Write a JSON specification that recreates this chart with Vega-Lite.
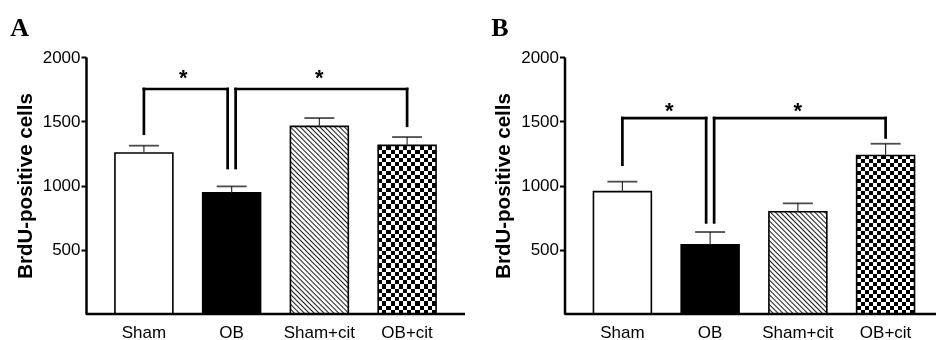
{
"$schema": "https://vega.github.io/schema/vega-lite/v6.json",
"padding": {"left": 10, "top": 15, "right": 0, "bottom": 0},
"params": [
{"name": "hatchA", "value": {"gradient": "linear", "x1": 0, "y1": 1, "x2": 0.3695, "y2": -0.1972, "stops": [
{"offset":0,"color":"#222"},
{"offset":0.006,"color":"#fff"},{"offset":0.014,"color":"#fff"},{"offset":0.02,"color":"#222"},
{"offset":0.026,"color":"#fff"},{"offset":0.034,"color":"#fff"},{"offset":0.04,"color":"#222"},
{"offset":0.046,"color":"#fff"},{"offset":0.054,"color":"#fff"},{"offset":0.06,"color":"#222"},
{"offset":0.066,"color":"#fff"},{"offset":0.074,"color":"#fff"},{"offset":0.08,"color":"#222"},
{"offset":0.086,"color":"#fff"},{"offset":0.094,"color":"#fff"},{"offset":0.1,"color":"#222"},
{"offset":0.106,"color":"#fff"},{"offset":0.114,"color":"#fff"},{"offset":0.12,"color":"#222"},
{"offset":0.126,"color":"#fff"},{"offset":0.134,"color":"#fff"},{"offset":0.14,"color":"#222"},
{"offset":0.146,"color":"#fff"},{"offset":0.154,"color":"#fff"},{"offset":0.16,"color":"#222"},
{"offset":0.166,"color":"#fff"},{"offset":0.174,"color":"#fff"},{"offset":0.18,"color":"#222"},
{"offset":0.186,"color":"#fff"},{"offset":0.194,"color":"#fff"},{"offset":0.2,"color":"#222"},
{"offset":0.206,"color":"#fff"},{"offset":0.214,"color":"#fff"},{"offset":0.22,"color":"#222"},
{"offset":0.226,"color":"#fff"},{"offset":0.234,"color":"#fff"},{"offset":0.24,"color":"#222"},
{"offset":0.246,"color":"#fff"},{"offset":0.254,"color":"#fff"},{"offset":0.26,"color":"#222"},
{"offset":0.266,"color":"#fff"},{"offset":0.274,"color":"#fff"},{"offset":0.28,"color":"#222"},
{"offset":0.286,"color":"#fff"},{"offset":0.294,"color":"#fff"},{"offset":0.3,"color":"#222"},
{"offset":0.306,"color":"#fff"},{"offset":0.314,"color":"#fff"},{"offset":0.32,"color":"#222"},
{"offset":0.326,"color":"#fff"},{"offset":0.334,"color":"#fff"},{"offset":0.34,"color":"#222"},
{"offset":0.346,"color":"#fff"},{"offset":0.354,"color":"#fff"},{"offset":0.36,"color":"#222"},
{"offset":0.366,"color":"#fff"},{"offset":0.374,"color":"#fff"},{"offset":0.38,"color":"#222"},
{"offset":0.386,"color":"#fff"},{"offset":0.394,"color":"#fff"},{"offset":0.4,"color":"#222"},
{"offset":0.406,"color":"#fff"},{"offset":0.414,"color":"#fff"},{"offset":0.42,"color":"#222"},
{"offset":0.426,"color":"#fff"},{"offset":0.434,"color":"#fff"},{"offset":0.44,"color":"#222"},
{"offset":0.446,"color":"#fff"},{"offset":0.454,"color":"#fff"},{"offset":0.46,"color":"#222"},
{"offset":0.466,"color":"#fff"},{"offset":0.474,"color":"#fff"},{"offset":0.48,"color":"#222"},
{"offset":0.486,"color":"#fff"},{"offset":0.494,"color":"#fff"},{"offset":0.5,"color":"#222"},
{"offset":0.506,"color":"#fff"},{"offset":0.514,"color":"#fff"},{"offset":0.52,"color":"#222"},
{"offset":0.526,"color":"#fff"},{"offset":0.534,"color":"#fff"},{"offset":0.54,"color":"#222"},
{"offset":0.546,"color":"#fff"},{"offset":0.554,"color":"#fff"},{"offset":0.56,"color":"#222"},
{"offset":0.566,"color":"#fff"},{"offset":0.574,"color":"#fff"},{"offset":0.58,"color":"#222"},
{"offset":0.586,"color":"#fff"},{"offset":0.594,"color":"#fff"},{"offset":0.6,"color":"#222"},
{"offset":0.606,"color":"#fff"},{"offset":0.614,"color":"#fff"},{"offset":0.62,"color":"#222"},
{"offset":0.626,"color":"#fff"},{"offset":0.634,"color":"#fff"},{"offset":0.64,"color":"#222"},
{"offset":0.646,"color":"#fff"},{"offset":0.654,"color":"#fff"},{"offset":0.66,"color":"#222"},
{"offset":0.666,"color":"#fff"},{"offset":0.674,"color":"#fff"},{"offset":0.68,"color":"#222"},
{"offset":0.686,"color":"#fff"},{"offset":0.694,"color":"#fff"},{"offset":0.7,"color":"#222"},
{"offset":0.706,"color":"#fff"},{"offset":0.714,"color":"#fff"},{"offset":0.72,"color":"#222"},
{"offset":0.726,"color":"#fff"},{"offset":0.734,"color":"#fff"},{"offset":0.74,"color":"#222"},
{"offset":0.746,"color":"#fff"},{"offset":0.754,"color":"#fff"},{"offset":0.76,"color":"#222"},
{"offset":0.766,"color":"#fff"},{"offset":0.774,"color":"#fff"},{"offset":0.78,"color":"#222"},
{"offset":0.786,"color":"#fff"},{"offset":0.794,"color":"#fff"},{"offset":0.8,"color":"#222"},
{"offset":0.806,"color":"#fff"},{"offset":0.814,"color":"#fff"},{"offset":0.82,"color":"#222"},
{"offset":0.826,"color":"#fff"},{"offset":0.834,"color":"#fff"},{"offset":0.84,"color":"#222"},
{"offset":0.846,"color":"#fff"},{"offset":0.854,"color":"#fff"},{"offset":0.86,"color":"#222"},
{"offset":0.866,"color":"#fff"},{"offset":0.874,"color":"#fff"},{"offset":0.88,"color":"#222"},
{"offset":0.886,"color":"#fff"},{"offset":0.894,"color":"#fff"},{"offset":0.9,"color":"#222"},
{"offset":0.906,"color":"#fff"},{"offset":0.914,"color":"#fff"},{"offset":0.92,"color":"#222"},
{"offset":0.926,"color":"#fff"},{"offset":0.934,"color":"#fff"},{"offset":0.94,"color":"#222"},
{"offset":0.946,"color":"#fff"},{"offset":0.954,"color":"#fff"},{"offset":0.96,"color":"#222"},
{"offset":0.966,"color":"#fff"},{"offset":0.974,"color":"#fff"},{"offset":0.98,"color":"#222"},
{"offset":0.986,"color":"#fff"},{"offset":0.994,"color":"#fff"},{"offset":1,"color":"#222"}
]}},
{"name": "hatchB", "value": {"gradient": "linear", "x1": 0, "y1": 1, "x2": 1.0309, "y2": -0.8214, "stops": [
{"offset":0,"color":"#222"},
{"offset":0.006,"color":"#fff"},{"offset":0.014,"color":"#fff"},{"offset":0.02,"color":"#222"},
{"offset":0.026,"color":"#fff"},{"offset":0.034,"color":"#fff"},{"offset":0.04,"color":"#222"},
{"offset":0.046,"color":"#fff"},{"offset":0.054,"color":"#fff"},{"offset":0.06,"color":"#222"},
{"offset":0.066,"color":"#fff"},{"offset":0.074,"color":"#fff"},{"offset":0.08,"color":"#222"},
{"offset":0.086,"color":"#fff"},{"offset":0.094,"color":"#fff"},{"offset":0.1,"color":"#222"},
{"offset":0.106,"color":"#fff"},{"offset":0.114,"color":"#fff"},{"offset":0.12,"color":"#222"},
{"offset":0.126,"color":"#fff"},{"offset":0.134,"color":"#fff"},{"offset":0.14,"color":"#222"},
{"offset":0.146,"color":"#fff"},{"offset":0.154,"color":"#fff"},{"offset":0.16,"color":"#222"},
{"offset":0.166,"color":"#fff"},{"offset":0.174,"color":"#fff"},{"offset":0.18,"color":"#222"},
{"offset":0.186,"color":"#fff"},{"offset":0.194,"color":"#fff"},{"offset":0.2,"color":"#222"},
{"offset":0.206,"color":"#fff"},{"offset":0.214,"color":"#fff"},{"offset":0.22,"color":"#222"},
{"offset":0.226,"color":"#fff"},{"offset":0.234,"color":"#fff"},{"offset":0.24,"color":"#222"},
{"offset":0.246,"color":"#fff"},{"offset":0.254,"color":"#fff"},{"offset":0.26,"color":"#222"},
{"offset":0.266,"color":"#fff"},{"offset":0.274,"color":"#fff"},{"offset":0.28,"color":"#222"},
{"offset":0.286,"color":"#fff"},{"offset":0.294,"color":"#fff"},{"offset":0.3,"color":"#222"},
{"offset":0.306,"color":"#fff"},{"offset":0.314,"color":"#fff"},{"offset":0.32,"color":"#222"},
{"offset":0.326,"color":"#fff"},{"offset":0.334,"color":"#fff"},{"offset":0.34,"color":"#222"},
{"offset":0.346,"color":"#fff"},{"offset":0.354,"color":"#fff"},{"offset":0.36,"color":"#222"},
{"offset":0.366,"color":"#fff"},{"offset":0.374,"color":"#fff"},{"offset":0.38,"color":"#222"},
{"offset":0.386,"color":"#fff"},{"offset":0.394,"color":"#fff"},{"offset":0.4,"color":"#222"},
{"offset":0.406,"color":"#fff"},{"offset":0.414,"color":"#fff"},{"offset":0.42,"color":"#222"},
{"offset":0.426,"color":"#fff"},{"offset":0.434,"color":"#fff"},{"offset":0.44,"color":"#222"},
{"offset":0.446,"color":"#fff"},{"offset":0.454,"color":"#fff"},{"offset":0.46,"color":"#222"},
{"offset":0.466,"color":"#fff"},{"offset":0.474,"color":"#fff"},{"offset":0.48,"color":"#222"},
{"offset":0.486,"color":"#fff"},{"offset":0.494,"color":"#fff"},{"offset":0.5,"color":"#222"},
{"offset":0.506,"color":"#fff"},{"offset":0.514,"color":"#fff"},{"offset":0.52,"color":"#222"},
{"offset":0.526,"color":"#fff"},{"offset":0.534,"color":"#fff"},{"offset":0.54,"color":"#222"},
{"offset":0.546,"color":"#fff"},{"offset":0.554,"color":"#fff"},{"offset":0.56,"color":"#222"},
{"offset":0.566,"color":"#fff"},{"offset":0.574,"color":"#fff"},{"offset":0.58,"color":"#222"},
{"offset":0.586,"color":"#fff"},{"offset":0.594,"color":"#fff"},{"offset":0.6,"color":"#222"},
{"offset":0.606,"color":"#fff"},{"offset":0.614,"color":"#fff"},{"offset":0.62,"color":"#222"},
{"offset":0.626,"color":"#fff"},{"offset":0.634,"color":"#fff"},{"offset":0.64,"color":"#222"},
{"offset":0.646,"color":"#fff"},{"offset":0.654,"color":"#fff"},{"offset":0.66,"color":"#222"},
{"offset":0.666,"color":"#fff"},{"offset":0.674,"color":"#fff"},{"offset":0.68,"color":"#222"}
]}},
{"name": "checkV", "value": {"gradient": "linear", "x1": 0, "y1": 0, "x2": 1.4286, "y2": 0, "stops": [
{"offset":0,"color":"#000"},{"offset":0.05,"color":"#000"},{"offset":0.05,"color":"#fff"},{"offset":0.1,"color":"#fff"},
{"offset":0.1,"color":"#000"},{"offset":0.15,"color":"#000"},{"offset":0.15,"color":"#fff"},{"offset":0.2,"color":"#fff"},
{"offset":0.2,"color":"#000"},{"offset":0.25,"color":"#000"},{"offset":0.25,"color":"#fff"},{"offset":0.3,"color":"#fff"},
{"offset":0.3,"color":"#000"},{"offset":0.35,"color":"#000"},{"offset":0.35,"color":"#fff"},{"offset":0.4,"color":"#fff"},
{"offset":0.4,"color":"#000"},{"offset":0.45,"color":"#000"},{"offset":0.45,"color":"#fff"},{"offset":0.5,"color":"#fff"},
{"offset":0.5,"color":"#000"},{"offset":0.55,"color":"#000"},{"offset":0.55,"color":"#fff"},{"offset":0.6,"color":"#fff"},
{"offset":0.6,"color":"#000"},{"offset":0.65,"color":"#000"},{"offset":0.65,"color":"#fff"},{"offset":0.7,"color":"#fff"}
]}},
{"name": "checkH", "value": {"gradient": "linear", "x1": 0, "y1": 0, "x2": 0, "y2": 1, "stops": [
{"offset":0,"color":"#000"},{"offset":0.025,"color":"#000"},{"offset":0.025,"color":"#fff"},{"offset":0.05,"color":"#fff"},
{"offset":0.05,"color":"#000"},{"offset":0.075,"color":"#000"},{"offset":0.075,"color":"#fff"},{"offset":0.1,"color":"#fff"},
{"offset":0.1,"color":"#000"},{"offset":0.125,"color":"#000"},{"offset":0.125,"color":"#fff"},{"offset":0.15,"color":"#fff"},
{"offset":0.15,"color":"#000"},{"offset":0.175,"color":"#000"},{"offset":0.175,"color":"#fff"},{"offset":0.2,"color":"#fff"},
{"offset":0.2,"color":"#000"},{"offset":0.225,"color":"#000"},{"offset":0.225,"color":"#fff"},{"offset":0.25,"color":"#fff"},
{"offset":0.25,"color":"#000"},{"offset":0.275,"color":"#000"},{"offset":0.275,"color":"#fff"},{"offset":0.3,"color":"#fff"},
{"offset":0.3,"color":"#000"},{"offset":0.325,"color":"#000"},{"offset":0.325,"color":"#fff"},{"offset":0.35,"color":"#fff"},
{"offset":0.35,"color":"#000"},{"offset":0.375,"color":"#000"},{"offset":0.375,"color":"#fff"},{"offset":0.4,"color":"#fff"},
{"offset":0.4,"color":"#000"},{"offset":0.425,"color":"#000"},{"offset":0.425,"color":"#fff"},{"offset":0.45,"color":"#fff"},
{"offset":0.45,"color":"#000"},{"offset":0.475,"color":"#000"},{"offset":0.475,"color":"#fff"},{"offset":0.5,"color":"#fff"},
{"offset":0.5,"color":"#000"},{"offset":0.525,"color":"#000"},{"offset":0.525,"color":"#fff"},{"offset":0.55,"color":"#fff"},
{"offset":0.55,"color":"#000"},{"offset":0.575,"color":"#000"},{"offset":0.575,"color":"#fff"},{"offset":0.6,"color":"#fff"},
{"offset":0.6,"color":"#000"},{"offset":0.625,"color":"#000"},{"offset":0.625,"color":"#fff"},{"offset":0.65,"color":"#fff"},
{"offset":0.65,"color":"#000"},{"offset":0.675,"color":"#000"},{"offset":0.675,"color":"#fff"},{"offset":0.7,"color":"#fff"},
{"offset":0.7,"color":"#000"},{"offset":0.725,"color":"#000"},{"offset":0.725,"color":"#fff"},{"offset":0.75,"color":"#fff"},
{"offset":0.75,"color":"#000"},{"offset":0.775,"color":"#000"},{"offset":0.775,"color":"#fff"},{"offset":0.8,"color":"#fff"},
{"offset":0.8,"color":"#000"},{"offset":0.825,"color":"#000"},{"offset":0.825,"color":"#fff"},{"offset":0.85,"color":"#fff"},
{"offset":0.85,"color":"#000"},{"offset":0.875,"color":"#000"},{"offset":0.875,"color":"#fff"},{"offset":0.9,"color":"#fff"},
{"offset":0.9,"color":"#000"},{"offset":0.925,"color":"#000"},{"offset":0.925,"color":"#fff"},{"offset":0.95,"color":"#fff"},
{"offset":0.95,"color":"#000"},{"offset":0.975,"color":"#000"},{"offset":0.975,"color":"#fff"},{"offset":1,"color":"#fff"}
]}}
],
"datasets": {
"bars": [
{"panel":"A","group":"Sham","mean":1253,"upper":1310},
{"panel":"A","group":"OB","mean":944,"upper":993},
{"panel":"A","group":"Sham+cit","mean":1460,"upper":1525},
{"panel":"A","group":"OB+cit","mean":1312,"upper":1377},
{"panel":"B","group":"Sham","mean":952,"upper":1030},
{"panel":"B","group":"OB","mean":539,"upper":638},
{"panel":"B","group":"Sham+cit","mean":796,"upper":861},
{"panel":"B","group":"OB+cit","mean":1234,"upper":1325}
],
"brackets": [
{"panel":"A","side":"L","from":"Sham","to":"OB","top":1751,"fromEnd":1403,"toEnd":1136},
{"panel":"A","side":"R","from":"OB","to":"OB+cit","top":1751,"fromEnd":1136,"toEnd":1465},
{"panel":"B","side":"L","from":"Sham","to":"OB","top":1525,"fromEnd":1162,"toEnd":713},
{"panel":"B","side":"R","from":"OB","to":"OB+cit","top":1525,"fromEnd":713,"toEnd":1374}
]
},
"spacing": 23.5,
"hconcat": [
{
"width": 379, "height": 257,
"title": {"text": "A", "dx": -5},
"layer": [
{"data":{"name":"bars"},"transform":[{"filter":"datum.panel==='A'"}],"mark":{"type":"bar"},
 "encoding":{
  "x":{"field":"group","type":"nominal","title":null,"scale":{"domain":["Sham","OB","Sham+cit","OB+cit"],"paddingInner":0.34,"paddingOuter":0.33},"axis":{"values":["Sham","OB","Sham+cit","OB+cit"]}},
  "y":{"field":"mean","type":"quantitative","title":"BrdU-positive cells","scale":{"domain":[0,2000],"nice":false},"axis":{"values":[500,1000,1500,2000],"format":"d"}},
  "color":{"field":"group","type":"nominal","scale":{"domain":["Sham","OB","Sham+cit","OB+cit"],"range":["#ffffff","#000000","#ffffff","#ffffff"]},"legend":null}
 }},
{"data":{"name":"bars"},"transform":[{"filter":"datum.panel==='A' && datum.group==='Sham+cit'"}],"mark":{"type":"bar","fill":{"expr":"hatchA"}},
 "encoding":{"x":{"field":"group","type":"nominal","title":null,"scale":{"domain":["Sham","OB","Sham+cit","OB+cit"]}},"y":{"field":"mean","type":"quantitative","title":"BrdU-positive cells"}}},
{"data":{"name":"bars"},"transform":[{"filter":"datum.panel==='A' && datum.group==='OB+cit'"}],"mark":{"type":"bar","fill":{"expr":"checkV"}},
 "encoding":{"x":{"field":"group","type":"nominal","title":null,"scale":{"domain":["Sham","OB","Sham+cit","OB+cit"]}},"y":{"field":"mean","type":"quantitative","title":"BrdU-positive cells"}}},
{"data":{"name":"bars"},"transform":[{"filter":"datum.panel==='A' && datum.group==='OB+cit'"}],"mark":{"type":"bar","fill":{"expr":"checkH"},"blend":"difference"},
 "encoding":{"x":{"field":"group","type":"nominal","title":null,"scale":{"domain":["Sham","OB","Sham+cit","OB+cit"]}},"y":{"field":"mean","type":"quantitative","title":"BrdU-positive cells"}}},
{"data":{"name":"bars"},"transform":[{"filter":"datum.panel==='A'"}],"mark":{"type":"bar","fill":"#fff","fillOpacity":0,"stroke":"#000","strokeWidth":1.6},
 "encoding":{"x":{"field":"group","type":"nominal","title":null,"scale":{"domain":["Sham","OB","Sham+cit","OB+cit"]}},"y":{"field":"mean","type":"quantitative","title":"BrdU-positive cells"}}},
{"data":{"name":"bars"},"transform":[{"filter":"datum.panel==='A'"}],"mark":{"type":"rule","color":"#333","strokeWidth":1.2},
 "encoding":{"x":{"field":"group","type":"nominal","title":null,"scale":{"domain":["Sham","OB","Sham+cit","OB+cit"]}},"y":{"field":"mean","type":"quantitative","title":"BrdU-positive cells"},"y2":{"field":"upper"}}},
{"data":{"name":"bars"},"transform":[{"filter":"datum.panel==='A'"}],"mark":{"type":"tick","color":"#000","size":30,"thickness":1.8},
 "encoding":{"x":{"field":"group","type":"nominal","title":null,"scale":{"domain":["Sham","OB","Sham+cit","OB+cit"]}},"y":{"field":"upper","type":"quantitative","title":"BrdU-positive cells"}}},
{"data":{"values":[{}]},"mark":{"type":"rule","color":"#000","strokeWidth":2.5},"encoding":{"y":{"datum":0,"type":"quantitative","title":"BrdU-positive cells"}}},
{"data":{"name":"brackets"},"transform":[{"filter":"datum.panel==='A' && datum.side==='L'"}],"mark":{"type":"rule","color":"#000","strokeWidth":2.7,"strokeCap":"square","x2Offset":-4},
 "encoding":{"x":{"field":"from","type":"nominal","title":null,"scale":{"domain":["Sham","OB","Sham+cit","OB+cit"]}},"x2":{"field":"to"},"y":{"field":"top","type":"quantitative","title":"BrdU-positive cells"}}},
{"data":{"name":"brackets"},"transform":[{"filter":"datum.panel==='A' && datum.side==='R'"}],"mark":{"type":"rule","color":"#000","strokeWidth":2.7,"strokeCap":"square","xOffset":4},
 "encoding":{"x":{"field":"from","type":"nominal","title":null,"scale":{"domain":["Sham","OB","Sham+cit","OB+cit"]}},"x2":{"field":"to"},"y":{"field":"top","type":"quantitative","title":"BrdU-positive cells"}}},
{"data":{"name":"brackets"},"transform":[{"filter":"datum.panel==='A' && datum.side==='L'"}],"mark":{"type":"rule","color":"#000","strokeWidth":2.7,"strokeCap":"square"},
 "encoding":{"x":{"field":"from","type":"nominal","title":null,"scale":{"domain":["Sham","OB","Sham+cit","OB+cit"]}},"y":{"field":"fromEnd","type":"quantitative","title":"BrdU-positive cells"},"y2":{"field":"top"}}},
{"data":{"name":"brackets"},"transform":[{"filter":"datum.panel==='A' && datum.side==='L'"}],"mark":{"type":"rule","color":"#000","strokeWidth":2.7,"strokeCap":"square","xOffset":-4},
 "encoding":{"x":{"field":"to","type":"nominal","title":null,"scale":{"domain":["Sham","OB","Sham+cit","OB+cit"]}},"y":{"field":"toEnd","type":"quantitative","title":"BrdU-positive cells"},"y2":{"field":"top"}}},
{"data":{"name":"brackets"},"transform":[{"filter":"datum.panel==='A' && datum.side==='R'"}],"mark":{"type":"rule","color":"#000","strokeWidth":2.7,"strokeCap":"square","xOffset":4},
 "encoding":{"x":{"field":"from","type":"nominal","title":null,"scale":{"domain":["Sham","OB","Sham+cit","OB+cit"]}},"y":{"field":"fromEnd","type":"quantitative","title":"BrdU-positive cells"},"y2":{"field":"top"}}},
{"data":{"name":"brackets"},"transform":[{"filter":"datum.panel==='A' && datum.side==='R'"}],"mark":{"type":"rule","color":"#000","strokeWidth":2.7,"strokeCap":"square"},
 "encoding":{"x":{"field":"to","type":"nominal","title":null,"scale":{"domain":["Sham","OB","Sham+cit","OB+cit"]}},"y":{"field":"toEnd","type":"quantitative","title":"BrdU-positive cells"},"y2":{"field":"top"}}},
{"data":{"name":"brackets"},"transform":[{"filter":"datum.panel==='A' && datum.side==='L'"}],"mark":{"type":"text","text":"*","font":"Liberation Sans","fontWeight":"bold","fontSize":22,"baseline":"alphabetic","xOffset":39.5,"dy":-4,"color":"#000"},
 "encoding":{"x":{"field":"from","type":"nominal","title":null,"scale":{"domain":["Sham","OB","Sham+cit","OB+cit"]}},"y":{"field":"top","type":"quantitative","title":"BrdU-positive cells"}}},
{"data":{"name":"brackets"},"transform":[{"filter":"datum.panel==='A' && datum.side==='R'"}],"mark":{"type":"text","text":"*","font":"Liberation Sans","fontWeight":"bold","fontSize":22,"baseline":"alphabetic","xOffset":87.7,"dy":-4,"color":"#000"},
 "encoding":{"x":{"field":"from","type":"nominal","title":null,"scale":{"domain":["Sham","OB","Sham+cit","OB+cit"]}},"y":{"field":"top","type":"quantitative","title":"BrdU-positive cells"}}}
]
},
{
"width": 372, "height": 257,
"title": {"text": "B", "dx": -2.5},
"layer": [
{"data":{"name":"bars"},"transform":[{"filter":"datum.panel==='B'"}],"mark":{"type":"bar"},
 "encoding":{
  "x":{"field":"group","type":"nominal","title":null,"scale":{"domain":["Sham","OB","Sham+cit","OB+cit"],"paddingInner":0.34,"paddingOuter":0.33,"range":[0,379]},"axis":{"values":["Sham","OB","Sham+cit","OB+cit"]}},
  "y":{"field":"mean","type":"quantitative","title":"BrdU-positive cells","scale":{"domain":[0,2000],"nice":false},"axis":{"values":[500,1000,1500,2000],"format":"d"}},
  "color":{"field":"group","type":"nominal","scale":{"domain":["Sham","OB","Sham+cit","OB+cit"],"range":["#ffffff","#000000","#ffffff","#ffffff"]},"legend":null}
 }},
{"data":{"name":"bars"},"transform":[{"filter":"datum.panel==='B' && datum.group==='Sham+cit'"}],"mark":{"type":"bar","fill":{"expr":"hatchB"}},
 "encoding":{"x":{"field":"group","type":"nominal","title":null,"scale":{"domain":["Sham","OB","Sham+cit","OB+cit"]}},"y":{"field":"mean","type":"quantitative","title":"BrdU-positive cells"}}},
{"data":{"name":"bars"},"transform":[{"filter":"datum.panel==='B' && datum.group==='OB+cit'"}],"mark":{"type":"bar","fill":{"expr":"checkV"}},
 "encoding":{"x":{"field":"group","type":"nominal","title":null,"scale":{"domain":["Sham","OB","Sham+cit","OB+cit"]}},"y":{"field":"mean","type":"quantitative","title":"BrdU-positive cells"}}},
{"data":{"name":"bars"},"transform":[{"filter":"datum.panel==='B' && datum.group==='OB+cit'"}],"mark":{"type":"bar","fill":{"expr":"checkH"},"blend":"difference"},
 "encoding":{"x":{"field":"group","type":"nominal","title":null,"scale":{"domain":["Sham","OB","Sham+cit","OB+cit"]}},"y":{"field":"mean","type":"quantitative","title":"BrdU-positive cells"}}},
{"data":{"name":"bars"},"transform":[{"filter":"datum.panel==='B'"}],"mark":{"type":"bar","fill":"#fff","fillOpacity":0,"stroke":"#000","strokeWidth":1.6},
 "encoding":{"x":{"field":"group","type":"nominal","title":null,"scale":{"domain":["Sham","OB","Sham+cit","OB+cit"]}},"y":{"field":"mean","type":"quantitative","title":"BrdU-positive cells"}}},
{"data":{"name":"bars"},"transform":[{"filter":"datum.panel==='B'"}],"mark":{"type":"rule","color":"#333","strokeWidth":1.2},
 "encoding":{"x":{"field":"group","type":"nominal","title":null,"scale":{"domain":["Sham","OB","Sham+cit","OB+cit"]}},"y":{"field":"mean","type":"quantitative","title":"BrdU-positive cells"},"y2":{"field":"upper"}}},
{"data":{"name":"bars"},"transform":[{"filter":"datum.panel==='B'"}],"mark":{"type":"tick","color":"#000","size":30,"thickness":1.8},
 "encoding":{"x":{"field":"group","type":"nominal","title":null,"scale":{"domain":["Sham","OB","Sham+cit","OB+cit"]}},"y":{"field":"upper","type":"quantitative","title":"BrdU-positive cells"}}},
{"data":{"values":[{}]},"mark":{"type":"rule","color":"#000","strokeWidth":2.5},"encoding":{"y":{"datum":0,"type":"quantitative","title":"BrdU-positive cells"}}},
{"data":{"name":"brackets"},"transform":[{"filter":"datum.panel==='B' && datum.side==='L'"}],"mark":{"type":"rule","color":"#000","strokeWidth":2.7,"strokeCap":"square","x2Offset":-4},
 "encoding":{"x":{"field":"from","type":"nominal","title":null,"scale":{"domain":["Sham","OB","Sham+cit","OB+cit"]}},"x2":{"field":"to"},"y":{"field":"top","type":"quantitative","title":"BrdU-positive cells"}}},
{"data":{"name":"brackets"},"transform":[{"filter":"datum.panel==='B' && datum.side==='R'"}],"mark":{"type":"rule","color":"#000","strokeWidth":2.7,"strokeCap":"square","xOffset":4},
 "encoding":{"x":{"field":"from","type":"nominal","title":null,"scale":{"domain":["Sham","OB","Sham+cit","OB+cit"]}},"x2":{"field":"to"},"y":{"field":"top","type":"quantitative","title":"BrdU-positive cells"}}},
{"data":{"name":"brackets"},"transform":[{"filter":"datum.panel==='B' && datum.side==='L'"}],"mark":{"type":"rule","color":"#000","strokeWidth":2.7,"strokeCap":"square"},
 "encoding":{"x":{"field":"from","type":"nominal","title":null,"scale":{"domain":["Sham","OB","Sham+cit","OB+cit"]}},"y":{"field":"fromEnd","type":"quantitative","title":"BrdU-positive cells"},"y2":{"field":"top"}}},
{"data":{"name":"brackets"},"transform":[{"filter":"datum.panel==='B' && datum.side==='L'"}],"mark":{"type":"rule","color":"#000","strokeWidth":2.7,"strokeCap":"square","xOffset":-4},
 "encoding":{"x":{"field":"to","type":"nominal","title":null,"scale":{"domain":["Sham","OB","Sham+cit","OB+cit"]}},"y":{"field":"toEnd","type":"quantitative","title":"BrdU-positive cells"},"y2":{"field":"top"}}},
{"data":{"name":"brackets"},"transform":[{"filter":"datum.panel==='B' && datum.side==='R'"}],"mark":{"type":"rule","color":"#000","strokeWidth":2.7,"strokeCap":"square","xOffset":4},
 "encoding":{"x":{"field":"from","type":"nominal","title":null,"scale":{"domain":["Sham","OB","Sham+cit","OB+cit"]}},"y":{"field":"fromEnd","type":"quantitative","title":"BrdU-positive cells"},"y2":{"field":"top"}}},
{"data":{"name":"brackets"},"transform":[{"filter":"datum.panel==='B' && datum.side==='R'"}],"mark":{"type":"rule","color":"#000","strokeWidth":2.7,"strokeCap":"square"},
 "encoding":{"x":{"field":"to","type":"nominal","title":null,"scale":{"domain":["Sham","OB","Sham+cit","OB+cit"]}},"y":{"field":"toEnd","type":"quantitative","title":"BrdU-positive cells"},"y2":{"field":"top"}}},
{"data":{"name":"brackets"},"transform":[{"filter":"datum.panel==='B' && datum.side==='L'"}],"mark":{"type":"text","text":"*","font":"Liberation Sans","fontWeight":"bold","fontSize":22,"baseline":"alphabetic","xOffset":47,"dy":0,"color":"#000"},
 "encoding":{"x":{"field":"from","type":"nominal","title":null,"scale":{"domain":["Sham","OB","Sham+cit","OB+cit"]}},"y":{"field":"top","type":"quantitative","title":"BrdU-positive cells"}}},
{"data":{"name":"brackets"},"transform":[{"filter":"datum.panel==='B' && datum.side==='R'"}],"mark":{"type":"text","text":"*","font":"Liberation Sans","fontWeight":"bold","fontSize":22,"baseline":"alphabetic","xOffset":87.7,"dy":0,"color":"#000"},
 "encoding":{"x":{"field":"from","type":"nominal","title":null,"scale":{"domain":["Sham","OB","Sham+cit","OB+cit"]}},"y":{"field":"top","type":"quantitative","title":"BrdU-positive cells"}}}
]
}
],
"config": {
 "view": {"stroke": null},
 "axis": {"domainColor": "#000", "tickColor": "#000", "labelColor": "#000", "titleColor": "#000", "labelFont": "Liberation Sans", "titleFont": "Liberation Sans", "grid": false},
 "axisX": {"labelAngle": 0, "domain": false, "ticks": false, "tickSize": 0, "labelPadding": 10, "labelFontSize": 17},
 "axisY": {"tickSize": 5, "tickWidth": 2, "domainWidth": 2.5, "labelPadding": 1, "labelFontSize": 17, "titleFontSize": 20.5, "titleFontWeight": "bold", "titlePadding": 7},
 "title": {"anchor": "start", "frame": "bounds", "font": "Liberation Serif", "fontSize": 26, "fontWeight": "bold", "color": "#000", "baseline": "alphabetic", "offset": 7}
}
}
